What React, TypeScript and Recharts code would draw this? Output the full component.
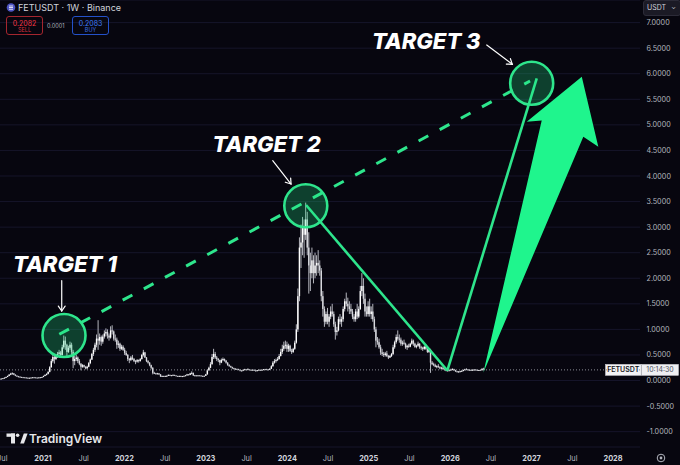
import React from 'react'
import { ComposedChart, Bar, XAxis, YAxis, CartesianGrid, ReferenceLine, ReferenceDot, ReferenceArea } from 'recharts'

const BG = '#07060f'
const GREEN = '#2ee58c'
const ARROW_GREEN = '#1ff58d'

// weekly candles [open, high, low, close], first week = 15 Jun 2020
const FIRST_WEEK = 2020.4536
const WEEK = 7 / 365.25

const candles2020 = [
  [0.030, 0.034, 0.028, 0.032], [0.032, 0.036, 0.030, 0.034], [0.034, 0.040, 0.032, 0.038], [0.038, 0.048, 0.036, 0.045],
  [0.045, 0.060, 0.043, 0.055], [0.055, 0.075, 0.052, 0.070], [0.070, 0.095, 0.066, 0.090], [0.090, 0.125, 0.085, 0.115],
  [0.115, 0.150, 0.105, 0.135], [0.135, 0.160, 0.120, 0.140], [0.140, 0.145, 0.105, 0.115], [0.115, 0.120, 0.085, 0.095],
  [0.095, 0.100, 0.075, 0.080], [0.080, 0.090, 0.068, 0.075], [0.075, 0.080, 0.062, 0.068], [0.068, 0.074, 0.060, 0.064],
  [0.064, 0.070, 0.058, 0.062], [0.062, 0.066, 0.055, 0.058], [0.058, 0.062, 0.050, 0.054], [0.054, 0.058, 0.046, 0.050],
  [0.050, 0.056, 0.045, 0.053], [0.053, 0.060, 0.050, 0.057], [0.057, 0.066, 0.054, 0.062], [0.062, 0.070, 0.055, 0.060],
  [0.060, 0.064, 0.052, 0.056], [0.056, 0.060, 0.050, 0.055], [0.055, 0.062, 0.052, 0.060], [0.060, 0.066, 0.056, 0.063],
  [0.063, 0.072, 0.060, 0.070],
]

const candles2021 = [
  [0.070, 0.095, 0.065, 0.090], [0.090, 0.120, 0.085, 0.110], [0.110, 0.140, 0.100, 0.130], [0.130, 0.180, 0.120, 0.170],
  [0.170, 0.280, 0.160, 0.260], [0.260, 0.420, 0.250, 0.380], [0.380, 0.520, 0.350, 0.460], [0.460, 0.500, 0.330, 0.420],
  [0.420, 0.520, 0.400, 0.480], [0.480, 0.560, 0.440, 0.520], [0.520, 0.600, 0.470, 0.550], [0.550, 0.580, 0.440, 0.500],
  [0.500, 0.700, 0.490, 0.650], [0.650, 0.880, 0.620, 0.780], [0.780, 0.860, 0.600, 0.700], [0.700, 0.720, 0.480, 0.560],
  [0.560, 0.680, 0.540, 0.640], [0.640, 0.760, 0.600, 0.700], [0.700, 0.740, 0.500, 0.560], [0.560, 0.600, 0.240, 0.380],
  [0.380, 0.480, 0.300, 0.420], [0.420, 0.500, 0.380, 0.450], [0.450, 0.470, 0.340, 0.380], [0.380, 0.420, 0.300, 0.330],
  [0.330, 0.340, 0.200, 0.270], [0.270, 0.320, 0.250, 0.300], [0.300, 0.310, 0.250, 0.270], [0.270, 0.280, 0.220, 0.240],
  [0.240, 0.290, 0.220, 0.270], [0.270, 0.360, 0.260, 0.340], [0.340, 0.430, 0.320, 0.410], [0.410, 0.540, 0.400, 0.520],
  [0.520, 0.640, 0.480, 0.600], [0.600, 0.740, 0.560, 0.700], [0.700, 0.900, 0.650, 0.820], [0.820, 1.180, 0.600, 0.780],
  [0.780, 0.920, 0.700, 0.850], [0.850, 0.880, 0.680, 0.760], [0.760, 0.900, 0.720, 0.860], [0.860, 0.980, 0.820, 0.920],
  [0.920, 1.020, 0.860, 0.950], [0.950, 1.000, 0.820, 0.880], [0.880, 0.920, 0.780, 0.840], [0.840, 1.060, 0.820, 0.980],
  [0.980, 1.080, 0.900, 0.960], [0.960, 0.980, 0.780, 0.820], [0.820, 0.900, 0.760, 0.800], [0.800, 0.840, 0.620, 0.700],
  [0.700, 0.780, 0.640, 0.720], [0.720, 0.740, 0.580, 0.620], [0.620, 0.700, 0.600, 0.660], [0.660, 0.690, 0.580, 0.600],
]

const candles2022 = [
  [0.600, 0.640, 0.500, 0.540], [0.540, 0.580, 0.480, 0.500], [0.500, 0.520, 0.380, 0.420], [0.420, 0.440, 0.340, 0.400],
  [0.400, 0.480, 0.380, 0.450], [0.450, 0.500, 0.400, 0.420], [0.420, 0.440, 0.360, 0.380], [0.380, 0.400, 0.320, 0.370],
  [0.370, 0.420, 0.350, 0.400], [0.400, 0.410, 0.350, 0.380], [0.380, 0.440, 0.370, 0.420], [0.420, 0.520, 0.410, 0.500],
  [0.500, 0.600, 0.470, 0.550], [0.550, 0.560, 0.440, 0.450], [0.450, 0.460, 0.360, 0.380], [0.380, 0.400, 0.330, 0.350],
  [0.350, 0.360, 0.280, 0.300], [0.300, 0.310, 0.220, 0.250], [0.250, 0.260, 0.120, 0.150], [0.150, 0.170, 0.130, 0.140],
  [0.140, 0.150, 0.120, 0.130], [0.130, 0.150, 0.120, 0.140], [0.140, 0.145, 0.110, 0.120], [0.120, 0.125, 0.070, 0.080],
  [0.080, 0.095, 0.075, 0.090], [0.090, 0.092, 0.078, 0.085], [0.085, 0.095, 0.080, 0.090], [0.090, 0.100, 0.082, 0.092],
  [0.092, 0.120, 0.090, 0.110], [0.110, 0.115, 0.095, 0.100], [0.100, 0.108, 0.094, 0.102], [0.102, 0.118, 0.100, 0.110],
  [0.110, 0.112, 0.094, 0.098], [0.098, 0.100, 0.086, 0.090], [0.090, 0.092, 0.080, 0.085], [0.085, 0.095, 0.082, 0.090],
  [0.090, 0.094, 0.076, 0.080], [0.080, 0.090, 0.076, 0.085], [0.085, 0.096, 0.082, 0.092], [0.092, 0.110, 0.090, 0.100],
  [0.100, 0.130, 0.096, 0.120], [0.120, 0.125, 0.100, 0.110], [0.110, 0.150, 0.105, 0.140], [0.140, 0.180, 0.120, 0.150],
  [0.150, 0.155, 0.090, 0.100], [0.100, 0.110, 0.090, 0.100], [0.100, 0.102, 0.086, 0.095], [0.095, 0.108, 0.092, 0.100],
  [0.100, 0.106, 0.094, 0.098], [0.098, 0.100, 0.084, 0.090], [0.090, 0.095, 0.086, 0.088], [0.088, 0.096, 0.084, 0.092],
]

const candles2023 = [
  [0.092, 0.130, 0.090, 0.120], [0.120, 0.220, 0.115, 0.200], [0.200, 0.270, 0.190, 0.250], [0.250, 0.360, 0.240, 0.320],
  [0.320, 0.520, 0.310, 0.460], [0.460, 0.620, 0.420, 0.520], [0.520, 0.560, 0.420, 0.450], [0.450, 0.480, 0.380, 0.420],
  [0.420, 0.440, 0.360, 0.400], [0.400, 0.410, 0.300, 0.350], [0.350, 0.430, 0.340, 0.400], [0.400, 0.450, 0.380, 0.420],
  [0.420, 0.430, 0.370, 0.390], [0.390, 0.400, 0.330, 0.350], [0.350, 0.360, 0.290, 0.300], [0.300, 0.320, 0.270, 0.280],
  [0.280, 0.290, 0.250, 0.260], [0.260, 0.270, 0.230, 0.240], [0.240, 0.250, 0.220, 0.230], [0.230, 0.240, 0.215, 0.225],
  [0.225, 0.235, 0.210, 0.220], [0.220, 0.230, 0.205, 0.210], [0.210, 0.215, 0.180, 0.195], [0.195, 0.205, 0.180, 0.190],
  [0.190, 0.220, 0.185, 0.210], [0.210, 0.230, 0.200, 0.220], [0.220, 0.225, 0.200, 0.210], [0.210, 0.240, 0.205, 0.220],
  [0.220, 0.225, 0.200, 0.210], [0.210, 0.215, 0.195, 0.200], [0.200, 0.220, 0.195, 0.210], [0.210, 0.215, 0.195, 0.200],
  [0.200, 0.205, 0.175, 0.190], [0.190, 0.205, 0.185, 0.200], [0.200, 0.220, 0.195, 0.210], [0.210, 0.212, 0.195, 0.200],
  [0.200, 0.215, 0.195, 0.210], [0.210, 0.225, 0.205, 0.220], [0.220, 0.228, 0.210, 0.220], [0.220, 0.230, 0.212, 0.218],
  [0.218, 0.222, 0.200, 0.210], [0.210, 0.240, 0.205, 0.230], [0.230, 0.300, 0.225, 0.280], [0.280, 0.380, 0.270, 0.350],
  [0.350, 0.420, 0.330, 0.380], [0.380, 0.430, 0.350, 0.400], [0.400, 0.460, 0.380, 0.420], [0.420, 0.520, 0.410, 0.480],
  [0.480, 0.620, 0.470, 0.560], [0.560, 0.700, 0.520, 0.620], [0.620, 0.760, 0.580, 0.680], [0.680, 0.780, 0.620, 0.700],
]

const candles2024 = [
  [0.700, 0.760, 0.560, 0.620], [0.620, 0.720, 0.560, 0.680], [0.680, 0.700, 0.560, 0.580], [0.580, 0.620, 0.520, 0.560],
  [0.560, 0.640, 0.540, 0.620], [0.620, 0.780, 0.600, 0.740], [0.740, 1.100, 0.720, 1.000], [1.000, 1.800, 0.950, 1.650],
  [1.650, 2.800, 1.550, 2.600], [2.600, 3.050, 2.200, 2.700], [2.700, 3.200, 2.450, 3.000], [3.000, 3.150, 2.400, 2.850],
  [2.850, 3.480, 2.750, 3.150], [3.150, 3.300, 2.450, 2.600], [2.600, 2.900, 1.700, 2.250], [2.250, 2.500, 1.750, 2.100],
  [2.100, 2.600, 2.000, 2.350], [2.350, 2.450, 1.900, 2.100], [2.100, 2.500, 2.000, 2.250], [2.250, 2.450, 2.050, 2.300],
  [2.300, 2.550, 2.100, 2.250], [2.250, 2.350, 2.050, 2.150], [2.150, 2.200, 1.550, 1.650], [1.650, 1.750, 1.250, 1.400],
  [1.400, 1.450, 1.050, 1.150], [1.150, 1.350, 1.100, 1.300], [1.300, 1.420, 1.100, 1.150], [1.150, 1.300, 1.050, 1.250],
  [1.250, 1.450, 1.200, 1.350], [1.350, 1.500, 1.250, 1.300], [1.300, 1.350, 1.050, 1.100], [1.100, 1.150, 0.800, 0.950],
  [0.950, 1.050, 0.880, 0.980], [0.980, 1.250, 0.960, 1.200], [1.200, 1.300, 1.100, 1.150], [1.150, 1.250, 1.050, 1.200],
  [1.200, 1.450, 1.150, 1.400], [1.400, 1.600, 1.350, 1.550], [1.550, 1.720, 1.450, 1.500], [1.500, 1.620, 1.350, 1.450],
  [1.450, 1.550, 1.300, 1.400], [1.400, 1.500, 1.300, 1.350], [1.350, 1.400, 1.200, 1.250], [1.250, 1.300, 1.150, 1.200],
  [1.200, 1.400, 1.150, 1.350], [1.350, 1.500, 1.200, 1.250], [1.250, 1.450, 1.220, 1.400], [1.400, 1.850, 1.380, 1.750],
  [1.750, 2.100, 1.650, 1.850], [1.850, 2.000, 1.500, 1.600], [1.600, 1.700, 1.250, 1.350], [1.350, 1.450, 1.250, 1.300],
]

const candles2025 = [
  [1.300, 1.550, 1.250, 1.450], [1.450, 1.600, 1.250, 1.300], [1.300, 1.450, 1.200, 1.350], [1.350, 1.500, 1.150, 1.200],
  [1.200, 1.250, 0.950, 1.000], [1.000, 1.050, 0.650, 0.780], [0.780, 0.850, 0.700, 0.750], [0.750, 0.820, 0.620, 0.650],
  [0.650, 0.700, 0.500, 0.550], [0.550, 0.620, 0.480, 0.520], [0.520, 0.560, 0.460, 0.500], [0.500, 0.560, 0.470, 0.530],
  [0.530, 0.580, 0.460, 0.480], [0.480, 0.500, 0.420, 0.450], [0.450, 0.500, 0.440, 0.480], [0.480, 0.540, 0.460, 0.520],
  [0.520, 0.700, 0.500, 0.650], [0.650, 0.780, 0.620, 0.750], [0.750, 0.900, 0.720, 0.850], [0.850, 0.980, 0.780, 0.820],
  [0.820, 0.900, 0.740, 0.800], [0.800, 0.840, 0.680, 0.720], [0.720, 0.780, 0.680, 0.740], [0.740, 0.800, 0.700, 0.720],
  [0.720, 0.740, 0.620, 0.650], [0.650, 0.700, 0.600, 0.680], [0.680, 0.720, 0.640, 0.660], [0.660, 0.740, 0.650, 0.720],
  [0.720, 0.820, 0.700, 0.780], [0.780, 0.800, 0.680, 0.720], [0.720, 0.740, 0.640, 0.660], [0.660, 0.700, 0.630, 0.680],
  [0.680, 0.760, 0.660, 0.720], [0.720, 0.730, 0.620, 0.650], [0.650, 0.680, 0.600, 0.640], [0.640, 0.660, 0.580, 0.620],
  [0.620, 0.680, 0.600, 0.660], [0.660, 0.700, 0.600, 0.620], [0.620, 0.640, 0.540, 0.560], [0.560, 0.620, 0.540, 0.600],
  [0.600, 0.620, 0.150, 0.350], [0.350, 0.380, 0.300, 0.320], [0.320, 0.350, 0.280, 0.300], [0.300, 0.330, 0.260, 0.270],
  [0.270, 0.300, 0.240, 0.280], [0.280, 0.320, 0.250, 0.260], [0.260, 0.280, 0.220, 0.240], [0.240, 0.270, 0.230, 0.250],
  [0.250, 0.270, 0.210, 0.220], [0.220, 0.240, 0.200, 0.210], [0.210, 0.220, 0.180, 0.190], [0.190, 0.210, 0.175, 0.200],
]

const candles2026 = [
  [0.200, 0.220, 0.185, 0.195], [0.195, 0.230, 0.190, 0.215], [0.215, 0.240, 0.200, 0.225], [0.225, 0.230, 0.190, 0.200],
  [0.200, 0.210, 0.170, 0.180], [0.180, 0.190, 0.160, 0.170], [0.170, 0.185, 0.160, 0.175], [0.175, 0.190, 0.165, 0.180],
  [0.180, 0.200, 0.170, 0.190], [0.190, 0.215, 0.180, 0.205], [0.205, 0.230, 0.195, 0.220], [0.220, 0.240, 0.205, 0.215],
  [0.215, 0.225, 0.200, 0.210], [0.210, 0.220, 0.195, 0.205], [0.205, 0.215, 0.190, 0.200], [0.200, 0.220, 0.195, 0.210],
  [0.210, 0.225, 0.200, 0.215], [0.215, 0.220, 0.198, 0.205], [0.205, 0.215, 0.195, 0.200], [0.200, 0.210, 0.190, 0.205],
  [0.205, 0.215, 0.195, 0.200], [0.200, 0.240, 0.198, 0.230], [0.230, 0.250, 0.200, 0.208],
]

const LAST_PRICE = 0.2082

const priceTicks = [-1, -0.5, 0, 0.5, 1, 1.5, 2, 2.5, 3, 3.5, 4, 4.5, 5, 5.5, 6, 6.5, 7]
const timeTicks = [2020.5, 2021, 2021.5, 2022, 2022.5, 2023, 2023.5, 2024, 2024.5, 2025, 2025.5, 2026, 2026.5, 2027, 2027.5, 2028]

const X_DOMAIN = [2020.472, 2028.331]
const Y_DOMAIN = [-1.3, 7.442]

// annotations, in (year, price)
const targetNames = ['TARGET 1', 'TARGET 2', 'TARGET 3']
const targetTimes = [2021.258, 2024.227, 2027.001]
const targetPrices = [0.88, 3.417, 5.813]
const targetTextAt = [[2021.27, 2.122], [2023.747, 4.463], [2025.706, 6.478]]
const pointerArrows = [
  [[2021.23, 1.952], [2021.23, 1.359]],
  [[2023.821, 4.299], [2024.046, 3.843]],
  [[2026.449, 6.562], [2026.763, 6.184]],
]
const dashedPath = [[2021.2, 0.904], [2026.981, 5.858]]
const solidPath = [[2024.23, 3.433], [2025.965, 0.196], [2027.063, 5.91]]
const bigArrow = [[2026.407, 0.153], [2027.124, 5.085], [2026.94, 5.062], [2027.616, 5.942], [2027.819, 4.573], [2027.635, 4.768]]

const allCandles = [...candles2020, ...candles2021, ...candles2022, ...candles2023, ...candles2024, ...candles2025, ...candles2026]
const data = allCandles.map(([o, h, l, c], i) => ({ t: FIRST_WEEK + i * WEEK, o, h, l, c, range: [l, h] }))

const FONT = 'Inter, "Noto Sans", sans-serif'

function Candle(props: any) {
  const { x, y, width, height, payload } = props
  if (!payload || x == null) return null
  const { o, h, l, c } = payload
  const top = Math.min(y, y + height)
  const bot = Math.max(y, y + height)
  const span = h - l || 1
  const toPx = (v: number) => top + ((h - v) / span) * (bot - top)
  const cx = x + width / 2
  const bTop = toPx(Math.max(o, c))
  const bBot = toPx(Math.min(o, c))
  return (
    <g>
      <line x1={cx} x2={cx} y1={top} y2={bot} stroke="#b4b5bd" strokeWidth={1} />
      <rect x={cx - 0.7} y={bTop} width={1.4} height={Math.max(bBot - bTop, 0.9)} fill={c >= o ? '#ffffff' : '#d8d9de'} />
    </g>
  )
}

function PriceTick(props: any) {
  const { x, y, payload } = props
  return (
    <text x={x + 6.5} y={y} dy="0.35em" fontSize={7.2} fill="#b2b5be" fontFamily={FONT}>
      {payload.value.toFixed(4)}
    </text>
  )
}

function TimeTick(props: any) {
  const { x, y, payload } = props
  const v = payload.value
  const isYear = Number.isInteger(v)
  return (
    <text x={x} y={y + 13.5} textAnchor="middle" fontSize={7.4} fontWeight={isYear ? 700 : 400}
      fill={isYear ? '#d1d4dc' : '#b2b5be'} fontFamily={FONT}>
      {isYear ? String(v) : 'Jul'}
    </text>
  )
}

function Overlay(props: any) {
  const { x, y, width, height } = props
  const px = (t: number) => x + ((t - X_DOMAIN[0]) / (X_DOMAIN[1] - X_DOMAIN[0])) * width
  const py = (p: number) => y + ((Y_DOMAIN[1] - p) / (Y_DOMAIN[1] - Y_DOMAIN[0])) * height
  const arrowPts = bigArrow.map(([t, p]) => `${px(t)},${py(p)}`).join(' ')
  const tagY = py(LAST_PRICE)
  return (
    <g>
      <polygon points={arrowPts} fill={ARROW_GREEN} />
      {pointerArrows.map(([[t1, p1], [t2, p2]], i) => {
        const x1 = px(t1), y1 = py(p1), x2 = px(t2), y2 = py(p2)
        const ang = Math.atan2(y2 - y1, x2 - x1)
        const hl = 6
        const a1 = ang + Math.PI - 0.6
        const a2 = ang + Math.PI + 0.6
        return (
          <g key={i} stroke="#ffffff" strokeWidth={1.2} fill="none" strokeLinecap="round">
            <line x1={x1} y1={y1} x2={x2} y2={y2} />
            <polyline points={`${x2 + hl * Math.cos(a1)},${y2 + hl * Math.sin(a1)} ${x2},${y2} ${x2 + hl * Math.cos(a2)},${y2 + hl * Math.sin(a2)}`} />
          </g>
        )
      })}
      {targetNames.map((name, i) => (
        <text key={name} x={px(targetTextAt[i][0])} y={py(targetTextAt[i][1])} textAnchor="middle"
          fontSize={22} fontWeight={800} fontStyle="italic" fill="#ffffff" fontFamily={FONT}>
          {name}
        </text>
      ))}
      <g fontFamily={FONT} fontSize={7}>
        <rect x={605.5} y={tagY - 5.5} width={35.5} height={11} fill="#f3f3f5" stroke="#d6d6dc" strokeWidth={0.5} />
        <text x={623.2} y={tagY} dy="0.36em" textAnchor="middle" fill="#131722" fontWeight={600}>FETUSDT</text>
        <rect x={641.5} y={tagY - 5.5} width={37} height={11} fill="#efeff2" stroke="#d6d6dc" strokeWidth={0.5} />
        <text x={660} y={tagY} dy="0.36em" textAnchor="middle" fill="#50535e">10:14:30</text>
      </g>
    </g>
  )
}

function Header() {
  return (
    <div style={{ position: 'absolute', left: 0, top: 0, width: 680, height: 465, pointerEvents: 'none', fontFamily: FONT }}>
      <svg width={16} height={16} style={{ position: 'absolute', left: 3, top: 0 }}>
        <circle cx={8} cy={7.5} r={4.3} fill="#4f56c4" />
        <rect x={6} y={5.6} width={4} height={0.8} fill="#fff" />
        <rect x={6} y={7.2} width={4} height={0.8} fill="#fff" />
        <rect x={6} y={8.8} width={4} height={0.8} fill="#fff" />
      </svg>
      <div style={{ position: 'absolute', left: 18, top: 1.5, fontSize: 9, color: '#d1d4dc', whiteSpace: 'nowrap' }}>
        FETUSDT · 1W · Binance
      </div>
      <div style={{ position: 'absolute', left: 6, top: 16, width: 35, height: 17, border: '1px solid #a5262f', borderRadius: 3, textAlign: 'center', lineHeight: 1 }}>
        <div style={{ fontSize: 7, color: '#f23645', marginTop: 2.5 }}>0.2082</div>
        <div style={{ fontSize: 5.5, color: '#d8303c', marginTop: 1.5 }}>SELL</div>
      </div>
      <div style={{ position: 'absolute', left: 47, top: 22.5, fontSize: 5.5, color: '#b2b5be' }}>0.0001</div>
      <div style={{ position: 'absolute', left: 72, top: 16, width: 35, height: 17, border: '1px solid #2451c9', borderRadius: 3, textAlign: 'center', lineHeight: 1 }}>
        <div style={{ fontSize: 7, color: '#3f7cf5', marginTop: 2.5 }}>0.2083</div>
        <div style={{ fontSize: 5.5, color: '#3a6fe0', marginTop: 1.5 }}>BUY</div>
      </div>
      <div style={{ position: 'absolute', left: 643, top: 0, width: 33, height: 14, background: '#1b1a25', border: '1px solid #2c2b38', borderRadius: 3, fontSize: 7, color: '#d1d4dc', lineHeight: '14px', paddingLeft: 3, boxSizing: 'content-box' }}>
        USDT<span style={{ position: 'absolute', right: 4, top: -1, fontSize: 6 }}>⌄</span>
      </div>
      <svg width={140} height={20} style={{ position: 'absolute', left: 0, top: 428 }}>
        <rect x={6.5} y={5.5} width={8.5} height={3.3} fill="#e6e6ea" />
        <rect x={11} y={5.5} width={4} height={10} fill="#e6e6ea" />
        <circle cx={17.6} cy={7.2} r={1.8} fill="#e6e6ea" />
        <polygon points="20.2,15.5 23.8,5.5 27.6,5.5 24,15.5" fill="#e6e6ea" />
        <text x={29} y={15.3} fontSize={12} fontWeight={600} fill="#e6e6ea" fontFamily={FONT}>TradingView</text>
      </svg>
      <svg width={12} height={12} style={{ position: 'absolute', left: 655, top: 452 }}>
        <circle cx={6} cy={6} r={3.8} stroke="#b2b5be" strokeWidth={1} fill="none" />
        <circle cx={6} cy={6} r={1.4} fill="#b2b5be" />
      </svg>
    </div>
  )
}

export default function App() {
  return (
    <div style={{ position: 'absolute', left: 0, top: 0, width: 680, height: 465, background: BG, overflow: 'hidden' }}>
      <ComposedChart width={680} height={465} data={data} margin={{ top: 0, right: 0, bottom: 0, left: 0 }}>
        <CartesianGrid vertical={false} stroke="#16152a" strokeWidth={1} />
        <XAxis dataKey="t" type="number" domain={X_DOMAIN} ticks={timeTicks} allowDataOverflow interval={0}
          axisLine={false} tickLine={false} tickSize={0} tickMargin={0} height={18} tick={<TimeTick />} />
        <YAxis orientation="right" type="number" domain={Y_DOMAIN} ticks={priceTicks} allowDataOverflow interval={0}
          axisLine={false} tickLine={false} tickSize={0} tickMargin={0} width={40} tick={<PriceTick />} />
        <ReferenceLine y={LAST_PRICE} stroke="#8a8c95" strokeDasharray="1 2" strokeWidth={1} />
        <Bar dataKey="range" shape={Candle} barSize={1} isAnimationActive={false} />
        {targetTimes.map((t, i) => (
          <ReferenceDot key={i} x={t} y={targetPrices[i]} r={21.5} fill="rgba(34,230,134,0.26)" stroke={GREEN}
            strokeWidth={2.6} ifOverflow="visible" />
        ))}
        <ReferenceLine segment={dashedPath.map(([t, p]) => ({ x: t, y: p }))} stroke={GREEN} strokeWidth={3}
          strokeDasharray="11 13" ifOverflow="visible" />
        <ReferenceLine segment={[{ x: solidPath[0][0], y: solidPath[0][1] }, { x: solidPath[1][0], y: solidPath[1][1] }]}
          stroke={GREEN} strokeWidth={2.6} ifOverflow="visible" />
        <ReferenceLine segment={[{ x: solidPath[1][0], y: solidPath[1][1] }, { x: solidPath[2][0], y: solidPath[2][1] }]}
          stroke={GREEN} strokeWidth={2.6} ifOverflow="visible" />
        <ReferenceArea x1={X_DOMAIN[0]} x2={X_DOMAIN[1]} y1={Y_DOMAIN[0]} y2={Y_DOMAIN[1]} ifOverflow="visible"
          shape={(p: any) => <Overlay {...p} />} />
      </ComposedChart>
      <Header />
    </div>
  )
}
